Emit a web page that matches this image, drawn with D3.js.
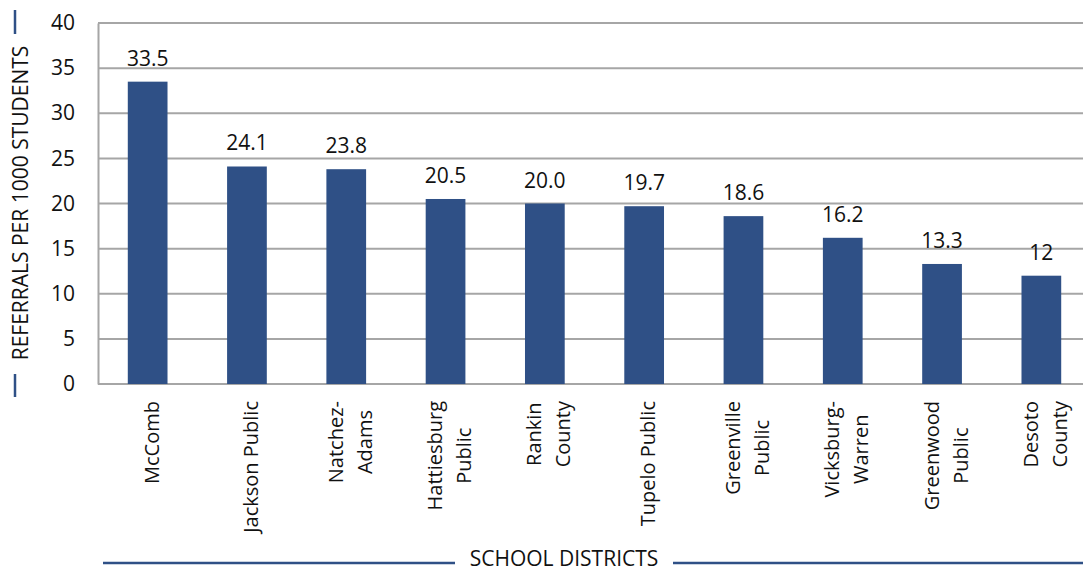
<!DOCTYPE html>
<html>
<head>
<meta charset="utf-8">
<script src="https://cdn.jsdelivr.net/npm/d3@7"></script>
<style>
  body { margin: 0; background: #fff; }
  text { font-family: "Open Sans", sans-serif; fill: #111; }
</style>
</head>
<body>
<svg id="svg_bar" width="1083" height="571"></svg>
<script>
// chart values
var districts = [
  ["McComb"],
  ["Jackson Public"],
  ["Natchez-", "Adams"],
  ["Hattiesburg", "Public"],
  ["Rankin", "County"],
  ["Tupelo Public"],
  ["Greenville", "Public"],
  ["Vicksburg-", "Warren"],
  ["Greenwood", "Public"],
  ["Desoto", "County"]
];
var referrals = [33.5, 24.1, 23.8, 20.5, 20.0, 19.7, 18.6, 16.2, 13.3, 12];
var valueLabels = ["33.5", "24.1", "23.8", "20.5", "20.0", "19.7", "18.6", "16.2", "13.3", "12"];
var yTicks = [0, 5, 10, 15, 20, 25, 30, 35, 40];

var svg = d3.select("svg#svg_bar");
var blue = "#2f5086";
var grid = "#a6a6a6";

var plot = {left: 98, right: 1091, top: 23, bottom: 384};

var x = d3.scaleBand()
  .domain(d3.range(districts.length))
  .range([plot.left, plot.right])
  .paddingInner(0.6)
  .paddingOuter(0.3);

var y = d3.scaleLinear()
  .domain([0, 40])
  .range([plot.bottom, plot.top]);

// gridlines
svg.append("g")
  .selectAll("line")
  .data(yTicks)
  .enter().append("line")
  .attr("x1", plot.left)
  .attr("x2", 1083)
  .attr("y1", function(d) { return y(d); })
  .attr("y2", function(d) { return y(d); })
  .attr("stroke", grid)
  .attr("stroke-width", 2);

// y axis
var yAxis = svg.append("g")
  .attr("transform", "translate(" + plot.left + ",0)")
  .call(d3.axisLeft(y).tickValues(yTicks).tickSize(0).tickPadding(23));
yAxis.select(".domain").attr("stroke", grid).attr("stroke-width", 2);
yAxis.selectAll("text")
  .style("font-family", "'Open Sans', sans-serif")
  .style("font-size", "21px")
  .attr("fill", "#111");

// bars
svg.append("g")
  .selectAll("rect")
  .data(referrals)
  .enter().append("rect")
  .attr("x", function(d, i) { return x(i); })
  .attr("width", x.bandwidth())
  .attr("y", function(d) { return y(d); })
  .attr("height", function(d) { return y(0) - y(d); })
  .attr("fill", blue);

// value labels
svg.append("g")
  .selectAll("text")
  .data(referrals)
  .enter().append("text")
  .attr("x", function(d, i) { return x(i) + x.bandwidth() / 2; })
  .attr("y", function(d) { return y(d) - 16; })
  .attr("text-anchor", "middle")
  .style("font-size", "21px")
  .text(function(d, i) { return valueLabels[i]; });

// category labels, rotated, lines centred in their block
var labelTop = 401;
var lineStep = 29;
var cat = svg.append("g")
  .selectAll("g")
  .data(districts)
  .enter().append("g")
  .attr("transform", function(d, i) {
    return "translate(" + (x(i) + x.bandwidth() / 2) + ",0) rotate(-90)";
  });

cat.each(function(lines) {
  var g = d3.select(this);
  var n = lines.length;
  var texts = g.selectAll("text")
    .data(lines)
    .enter().append("text")
    .attr("text-anchor", "middle")
    .style("font-size", "20px")
    .attr("y", function(d, j) { return 11 + (j - (n - 1) / 2) * lineStep; })
    .text(function(d) { return d; });
  var maxLen = 0;
  texts.each(function() { maxLen = Math.max(maxLen, this.getComputedTextLength()); });
  texts.attr("x", -(labelTop + maxLen / 2));
});

// y axis title with its rules
svg.append("text")
  .attr("transform", "translate(28,203) rotate(-90)")
  .attr("text-anchor", "middle")
  .style("font-size", "21px")
  .text("REFERRALS PER 1000 STUDENTS");

svg.append("line")
  .attr("x1", 15).attr("x2", 15).attr("y1", 10).attr("y2", 34)
  .attr("stroke", blue).attr("stroke-width", 2.5);
svg.append("line")
  .attr("x1", 15).attr("x2", 15).attr("y1", 374).attr("y2", 397)
  .attr("stroke", blue).attr("stroke-width", 2.5);

// x axis title with its rules
svg.append("text")
  .attr("x", 564)
  .attr("y", 566)
  .attr("text-anchor", "middle")
  .style("font-size", "21px")
  .text("SCHOOL DISTRICTS");

svg.append("line")
  .attr("x1", 103).attr("x2", 455).attr("y1", 563).attr("y2", 563)
  .attr("stroke", blue).attr("stroke-width", 2.5);
svg.append("line")
  .attr("x1", 673).attr("x2", 1083).attr("y1", 563).attr("y2", 563)
  .attr("stroke", blue).attr("stroke-width", 2.5);
</script>
</body>
</html>
